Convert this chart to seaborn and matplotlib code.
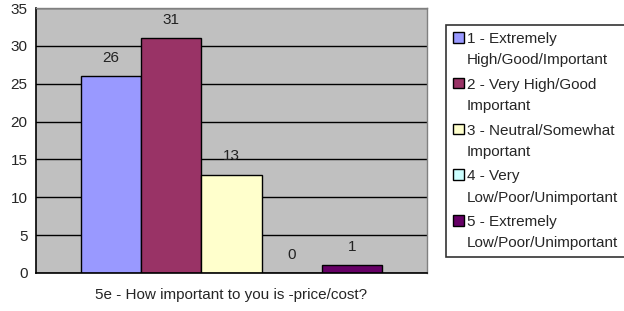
import pandas as pd
import matplotlib
matplotlib.use("Agg")
import matplotlib.pyplot as plt
import seaborn as sns

# chart data
question = "5e - How important to you is -price/cost?"
responses = [
    "1 - Extremely\nHigh/Good/Important",
    "2 - Very High/Good\nImportant",
    "3 - Neutral/Somewhat\nImportant",
    "4 - Very\nLow/Poor/Unimportant",
    "5 - Extremely\nLow/Poor/Unimportant",
]
counts = [26, 31, 13, 0, 1]
colors = ["#9999FF", "#993366", "#FFFFCC", "#CCFFFF", "#660066"]

df = pd.DataFrame({"question": [question] * len(responses),
                   "response": responses,
                   "count": counts})

sns.set_style("white")
plt.rcParams["font.family"] = ["Liberation Sans", "DejaVu Sans"]

fig = plt.figure(figsize=(6.24, 3.11), dpi=100)
ax = fig.add_axes([36 / 624, 38 / 311, 391 / 624, 265 / 311])

sns.barplot(data=df, x="question", y="count", hue="response",
            palette=colors, saturation=1, width=0.8,
            edgecolor="black", linewidth=1, ax=ax)

for c in ax.containers:
    ax.bar_label(c, padding=8, fontsize=11, color="#222222")

ax.set_facecolor("#C0C0C0")
ax.set_ylim(0, 35)
ax.set_yticks(range(0, 36, 5))
ax.set_xlim(-0.52, 0.52)
ax.yaxis.grid(True, color="black", linewidth=1)
ax.set_axisbelow(True)
ax.set_xlabel("")
ax.set_ylabel("")
ax.tick_params(axis="y", length=4, width=1, color="black", labelsize=11, pad=2)
ax.tick_params(axis="x", length=0, labelsize=11, pad=11)
ax.set_xticks([-0.52, 0.52], minor=True)
ax.tick_params(axis="x", which="minor", length=4, width=1, color="black")

for side in ["left", "bottom"]:
    ax.spines[side].set_color("black")
    ax.spines[side].set_linewidth(1.2)
for side in ["top", "right"]:
    ax.spines[side].set_color("#808080")
    ax.spines[side].set_linewidth(1)

handles, labels = ax.get_legend_handles_labels()
ax.get_legend().remove()
leg = fig.legend(handles, labels, loc="upper left",
                 bbox_to_anchor=(446 / 624, 1 - 25 / 311),
                 frameon=True, fancybox=False, edgecolor="black",
                 fontsize=11, handlelength=0.7, handleheight=0.7,
                 handletextpad=0.2, labelspacing=0.7, borderpad=0.45,
                 borderaxespad=0)
leg.get_frame().set_linewidth(1.2)
for t in leg.get_texts():
    t.set_linespacing(1.65)
# put each square next to the first line of its label
for col in leg._legend_handle_box.get_children():
    for item in col.get_children():
        item.align = "top"

fig.savefig("out.png", dpi=100)
